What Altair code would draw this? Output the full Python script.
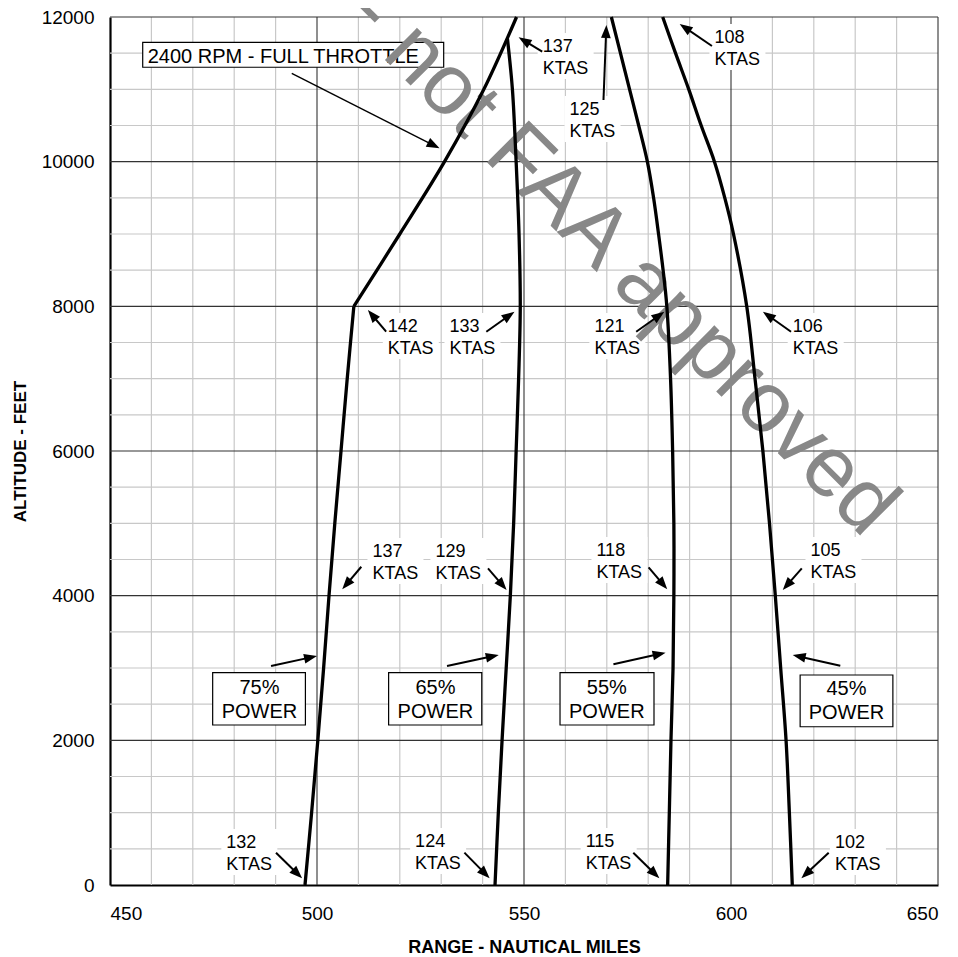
import math
import altair as alt
import pandas as pd

# ---------------- data (range in nautical miles, altitude in feet) ----------------
alt_75 = [0, 1000, 2000, 3000, 4000, 5000, 6000, 7000, 8000]
rng_75 = [497.1, 498.7, 500.2, 501.6, 502.9, 504.3, 505.8, 507.3, 508.9]

alt_ft = [8000, 9000, 10000, 11000, 12000]
rng_ft = [508.9, 520.0, 530.8, 540.3, 548.2]

alt_65 = [0, 1000, 2000, 3000, 4000, 5000, 6000, 7000, 8000, 9000, 10000, 11000, 11700]
rng_65 = [543.0, 543.8, 544.7, 545.7, 546.7, 547.5, 548.1, 548.7, 549.1, 548.8, 548.1, 547.2, 546.0]

alt_55 = [0, 1000, 2000, 3000, 4000, 5000, 6000, 7000, 8000, 8500, 9000, 9500,
          10000, 10500, 11000, 11500, 12000]
rng_55 = [584.7, 585.1, 585.5, 586.0, 586.2, 586.2, 585.9, 585.4, 584.5, 583.6, 582.5, 581.3,
          579.8, 577.7, 575.5, 573.3, 571.1]

alt_45 = [0, 1000, 2000, 3000, 4000, 5000, 6000, 7000, 8000, 9000, 9500,
          10000, 10500, 11000, 11500, 12000]
rng_45 = [614.8, 614.1, 613.3, 612.0, 610.7, 609.3, 607.7, 605.8, 603.8, 600.6, 598.5,
          596.0, 592.8, 589.8, 586.6, 583.5]

x_ticks = [450, 500, 550, 600, 650]
y_ticks = [0, 2000, 4000, 6000, 8000, 10000, 12000]

# KTAS call-outs: first line, left x (nm), baseline altitude (ft)
ktas_line1 = ["137", "125", "108", "142", "133", "121", "106",
              "137", "129", "118", "105", "132", "124", "115", "102"]
ktas_x = [554.5, 561.0, 596.0, 517.1, 532.0, 567.0, 614.9,
          513.4, 528.6, 567.5, 619.2, 478.1, 523.7, 564.9, 625.1]
ktas_y = [11516, 10645, 11641, 7645, 7645, 7645, 7645,
          4535, 4535, 4548, 4548, 512, 525, 525, 512]

# power boxes
power_text = ["75%\nPOWER", "65%\nPOWER", "55%\nPOWER", "45%\nPOWER"]
power_cx = [486.1, 528.6, 570.0, 627.9]
power_by = [2641, 2641, 2641, 2627]
power_x0 = [474.8, 517.3, 558.7, 616.7]
power_x1 = [497.2, 539.8, 581.4, 639.1]
power_y0 = [2212, 2212, 2212, 2188]
power_y1 = [2935, 2935, 2935, 2903]

# arrows: start x, start y, tip x, tip y
arr_x0 = [493.9, 554.4, 569.2, 595.4, 516.7, 540.9, 577.1, 614.5,
          510.7, 541.3, 580.1, 617.1, 488.9, 531.4, 571.6, 626.4,
          490.1, 535.6, 576.4, 623.6]
arr_y0 = [11222, 11520, 10853, 11599, 7649, 7649, 7649, 7649,
          4400, 4378, 4392, 4378, 3028, 3028, 3051, 3032,
          447, 447, 447, 447]
arr_x1 = [529.6, 548.7, 569.9, 587.6, 512.3, 547.7, 583.9, 607.7,
          506.1, 545.8, 584.6, 612.5, 500.0, 543.9, 584.2, 614.9,
          496.4, 541.7, 582.7, 617.0]
arr_y1 = [10185, 11719, 11890, 11903, 7949, 7926, 7926, 7926,
          4088, 4078, 4088, 4078, 3166, 3180, 3212, 3180,
          93, 93, 93, 93]

W, H = 828, 868
PXX = W / 200.0
PXY = H / 12000.0
FONT = "Liberation Sans"

# ---------------- tables ----------------
rows = []
for name, a, r in [("75", alt_75, rng_75), ("ft", alt_ft, rng_ft), ("65", alt_65, rng_65),
                   ("55", alt_55, rng_55), ("45", alt_45, rng_45)]:
    for i, (aa, rr) in enumerate(zip(a, r)):
        rows.append({"s": name, "o": i, "alt": aa, "rng": rr})
curves = pd.DataFrame(rows)

minor_x = [v for v in range(460, 650, 10) if v % 50]
minor_y = [v for v in range(500, 12000, 500) if v % 2000]
major_x = [500, 550, 600, 650]
major_y = [2000, 4000, 6000, 8000, 10000, 12000]

ktas = pd.DataFrame({"t": [a + "\nKTAS" for a in ktas_line1], "x": ktas_x, "y": ktas_y})
ktas["bx0"] = ktas["x"] - 5 / PXX
ktas["bx1"] = ktas["x"] + 51 / PXX
ktas["by0"] = ktas["y"] - 27 / PXY
ktas["by1"] = ktas["y"] + 19 / PXY

power = pd.DataFrame({"t": power_text, "x": power_cx, "y": power_by,
                      "x0": power_x0, "x1": power_x1, "y0": power_y0, "y1": power_y1})
thr = pd.DataFrame({"t": ["2400 RPM - FULL THROTTLE"], "x": [459.1], "y": [11368],
                    "x0": [457.9], "x1": [530.6], "y0": [11305], "y1": [11650]})

HEAD = 13.0
arr_rows = []
for x0, y0, x1, y1 in zip(arr_x0, arr_y0, arr_x1, arr_y1):
    dx = (x1 - x0) * PXX
    dy = -(y1 - y0) * PXY
    L = math.hypot(dx, dy)
    ux, uy = dx / L, dy / L
    ang = math.degrees(math.atan2(dx, -dy)) % 360
    hx = x1 - ux * HEAD / 2 / PXX
    hy = y1 + uy * HEAD / 2 / PXY
    arr_rows.append({"x0": x0, "y0": y0, "x1": hx, "y1": hy, "hx": hx, "hy": hy, "ang": ang})
arrows = pd.DataFrame(arr_rows)
arrows["w"] = [1.4] + [2.0] * (len(arrows) - 1)

wm = pd.DataFrame({"t": ["Draft - not FAA approved"], "x": [636.6], "y": [5033]})

xs = alt.Scale(domain=[450, 650], nice=False, zero=False)
ys = alt.Scale(domain=[0, 12000], nice=False, zero=False)

def rules_x(vals, color, width):
    return alt.Chart(pd.DataFrame({"v": vals})).mark_rule(color=color, strokeWidth=width).encode(
        x=alt.X("v:Q", scale=xs))

def rules_y(vals, color, width):
    return alt.Chart(pd.DataFrame({"v": vals})).mark_rule(color=color, strokeWidth=width).encode(
        y=alt.Y("v:Q", scale=ys))

base_axes = alt.Chart(pd.DataFrame({"x": [450], "y": [0]})).mark_point(opacity=0).encode(
    x=alt.X("x:Q", scale=xs,
            axis=alt.Axis(values=x_ticks, title="RANGE - NAUTICAL MILES", grid=False, ticks=False,
                          labelPadding=19, labelFontSize=19, labelFont=FONT, labelColor="#000",
                          titleFont=FONT, titleFontSize=18, titleFontWeight="bold", titleColor="#000",
                          titlePadding=15, domainColor="#000", domainWidth=2.2, format="d")),
    y=alt.Y("y:Q", scale=ys,
            axis=alt.Axis(values=y_ticks, title="ALTITUDE - FEET", grid=False, ticks=False,
                          labelPadding=16, labelFontSize=19, labelFont=FONT, labelColor="#000",
                          titleFont=FONT, titleFontSize=17, titleFontWeight="bold", titleColor="#000",
                          titlePadding=12, domainColor="#000", domainWidth=2.2, format="d")),
)

layers = [
    base_axes,
    rules_x(minor_x, "#c8c8c8", 1.2),
    rules_y(minor_y, "#c8c8c8", 1.2),
    rules_x(major_x, "#333333", 1.1),
    rules_y(major_y, "#333333", 1.1),
    alt.Chart(ktas).mark_rect(fill="white").encode(
        x=alt.X("bx0:Q", scale=xs), x2="bx1:Q", y=alt.Y("by0:Q", scale=ys), y2="by1:Q"),
    alt.Chart(power).mark_rect(fill="white", stroke="#000", strokeWidth=1.2).encode(
        x=alt.X("x0:Q", scale=xs), x2="x1:Q", y=alt.Y("y0:Q", scale=ys), y2="y1:Q"),
    alt.Chart(thr).mark_rect(fill="white", stroke="#000", strokeWidth=1.2).encode(
        x=alt.X("x0:Q", scale=xs), x2="x1:Q", y=alt.Y("y0:Q", scale=ys), y2="y1:Q"),
    alt.Chart(ktas).mark_text(align="left", baseline="alphabetic", fontSize=18, font=FONT,
                              lineBreak="\n", lineHeight=22, color="#000").encode(
        x=alt.X("x:Q", scale=xs), y=alt.Y("y:Q", scale=ys), text="t:N"),
    alt.Chart(power).mark_text(align="center", baseline="alphabetic", fontSize=20, font=FONT,
                               lineBreak="\n", lineHeight=24, color="#000").encode(
        x=alt.X("x:Q", scale=xs), y=alt.Y("y:Q", scale=ys), text="t:N"),
    alt.Chart(thr).mark_text(align="left", baseline="alphabetic", fontSize=20, font=FONT,
                             color="#000").encode(
        x=alt.X("x:Q", scale=xs), y=alt.Y("y:Q", scale=ys), text="t:N"),
    alt.Chart(wm).mark_text(align="right", baseline="middle", fontSize=86, font=FONT,
                            angle=45, color="#888888").encode(
        x=alt.X("x:Q", scale=xs), y=alt.Y("y:Q", scale=ys), text="t:N"),
    alt.Chart(curves).mark_line(color="#000", strokeWidth=3.3, interpolate="catmull-rom").encode(
        x=alt.X("rng:Q", scale=xs), y=alt.Y("alt:Q", scale=ys), detail="s:N", order="o:Q"),
    alt.Chart(arrows).mark_rule(color="#000").encode(
        x=alt.X("x0:Q", scale=xs), y=alt.Y("y0:Q", scale=ys), x2="x1:Q", y2="y1:Q",
        strokeWidth=alt.StrokeWidth("w:Q", scale=None)),
    alt.Chart(arrows).mark_point(shape="M0,-1L0.75,1L-0.75,1Z", filled=True, color="#000",
                                 opacity=1, size=HEAD * HEAD, strokeWidth=0).encode(
        x=alt.X("hx:Q", scale=xs), y=alt.Y("hy:Q", scale=ys),
        angle=alt.Angle("ang:Q", scale=None)),
]

chart = alt.layer(*layers).properties(
    width=W, height=H,
    autosize=alt.AutoSizeParams(type="none"),
    padding={"left": 102, "top": 9, "right": 12, "bottom": 72},
    background="white",
).configure_view(stroke=None)

chart.save("out.html", embed_options={"renderer": "svg", "actions": False})
